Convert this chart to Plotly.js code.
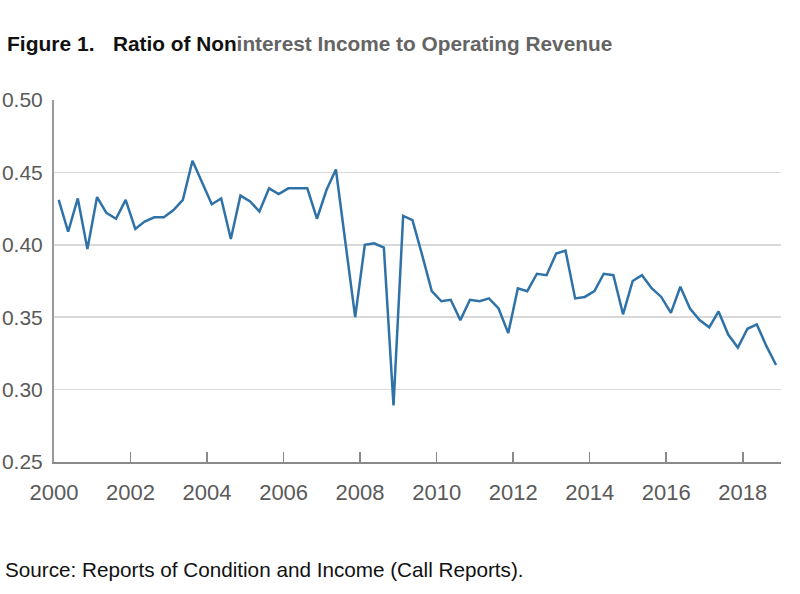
<!DOCTYPE html>
<html>
<head>
<meta charset="utf-8">
<script src="https://cdn.plot.ly/plotly-3.0.1.min.js"></script>
<style>
  html, body { margin: 0; padding: 0; background: #ffffff; }
  #chart { width: 800px; height: 594px; }
</style>
</head>
<body>
<div id="chart"></div>
<script>
// Quarterly observations, 2000 Q1 – 2018 Q4
const years = [2000, 2001, 2002, 2003, 2004, 2005, 2006, 2007, 2008, 2009,
               2010, 2011, 2012, 2013, 2014, 2015, 2016, 2017, 2018];
const quarterMidMonths = ['02', '05', '08', '11'];

const ratio = [
  0.431, 0.409, 0.432, 0.397,   // 2000
  0.433, 0.422, 0.418, 0.431,   // 2001
  0.411, 0.416, 0.419, 0.419,   // 2002
  0.424, 0.431, 0.458, 0.443,   // 2003
  0.428, 0.432, 0.404, 0.434,   // 2004
  0.430, 0.423, 0.439, 0.435,   // 2005
  0.439, 0.439, 0.439, 0.418,   // 2006
  0.438, 0.452, 0.401, 0.350,   // 2007
  0.400, 0.401, 0.398, 0.289,   // 2008
  0.420, 0.417, 0.393, 0.368,   // 2009
  0.361, 0.362, 0.348, 0.362,   // 2010
  0.361, 0.363, 0.356, 0.339,   // 2011
  0.370, 0.368, 0.380, 0.379,   // 2012
  0.394, 0.396, 0.363, 0.364,   // 2013
  0.368, 0.380, 0.379, 0.352,   // 2014
  0.375, 0.379, 0.370, 0.364,   // 2015
  0.353, 0.371, 0.356, 0.348,   // 2016
  0.343, 0.354, 0.338, 0.329,   // 2017
  0.342, 0.345, 0.330, 0.317    // 2018
];

const yTicks = [0.25, 0.30, 0.35, 0.40, 0.45, 0.50];
const xTickYears = ['2000', '2002', '2004', '2006', '2008', '2010', '2012', '2014', '2016', '2018'];

// build the quarter dates (mid-quarter) from the year / quarter lists
const quarterDates = [];
years.forEach(y => quarterMidMonths.forEach(m => quarterDates.push(y + '-' + m + '-15')));

const FONT = 'Liberation Sans, Arial, Helvetica, sans-serif';

const trace = {
  x: quarterDates,
  y: ratio,
  type: 'scatter',
  mode: 'lines',
  line: { color: '#2F72A8', width: 2.5 },
  hoverinfo: 'skip'
};

const W = 800, H = 594;
const M = { l: 54, r: 19, t: 100, b: 132 };
const pw = W - M.l - M.r, ph = H - M.t - M.b;
const px = v => (v - M.l) / pw;
const py = v => (H - M.b - v) / ph;

const layout = {
  width: W,
  height: H,
  margin: M,
  paper_bgcolor: '#ffffff',
  plot_bgcolor: '#ffffff',
  showlegend: false,
  font: { family: FONT, color: '#5a5a5a' },
  xaxis: {
    type: 'date',
    range: ['2000-01-01', '2019-01-01'],
    tickvals: xTickYears.map(y => y + '-01-01'),
    ticktext: xTickYears,
    ticks: 'inside',
    ticklen: 10,
    tickwidth: 1.5,
    tickcolor: '#8a8a8a',
    showgrid: false,
    zeroline: false,
    showline: true,
    linecolor: '#8a8a8a',
    linewidth: 2,
    tickfont: { family: FONT, size: 22, color: '#5a5a5a' },
    ticklabelstandoff: 10
  },
  yaxis: {
    range: [0.25, 0.50],
    tickvals: yTicks,
    ticktext: yTicks.map(v => v.toFixed(2)),
    ticks: '',
    showgrid: true,
    gridcolor: '#d9d9d9',
    gridwidth: 1.5,
    zeroline: false,
    showline: true,
    linecolor: '#9a9a9a',
    linewidth: 2,
    tickfont: { family: FONT, size: 21, color: '#5a5a5a' },
    ticklabelstandoff: 5
  },
  annotations: [
    {
      xref: 'paper', yref: 'paper', x: px(5), y: py(43),
      xanchor: 'left', yanchor: 'middle', showarrow: false,
      text: '<b>Figure 1.</b>',
      font: { family: FONT, size: 21, color: '#111111' }
    },
    {
      xref: 'paper', yref: 'paper', x: px(111), y: py(43),
      xanchor: 'left', yanchor: 'middle', showarrow: false,
      text: '<b>Ratio of Non<span style="color:#646464">interest Income to Operating Revenue</span></b>',
      font: { family: FONT, size: 20.8, color: '#111111' }
    },
    {
      xref: 'paper', yref: 'paper', x: px(3), y: py(569),
      xanchor: 'left', yanchor: 'middle', showarrow: false,
      text: 'Source: Reports of Condition and Income (Call Reports).',
      font: { family: FONT, size: 20.7, color: '#111111' }
    }
  ]
};

Plotly.newPlot('chart', [trace], layout, { staticPlot: true, displayModeBar: false });
</script>
</body>
</html>
